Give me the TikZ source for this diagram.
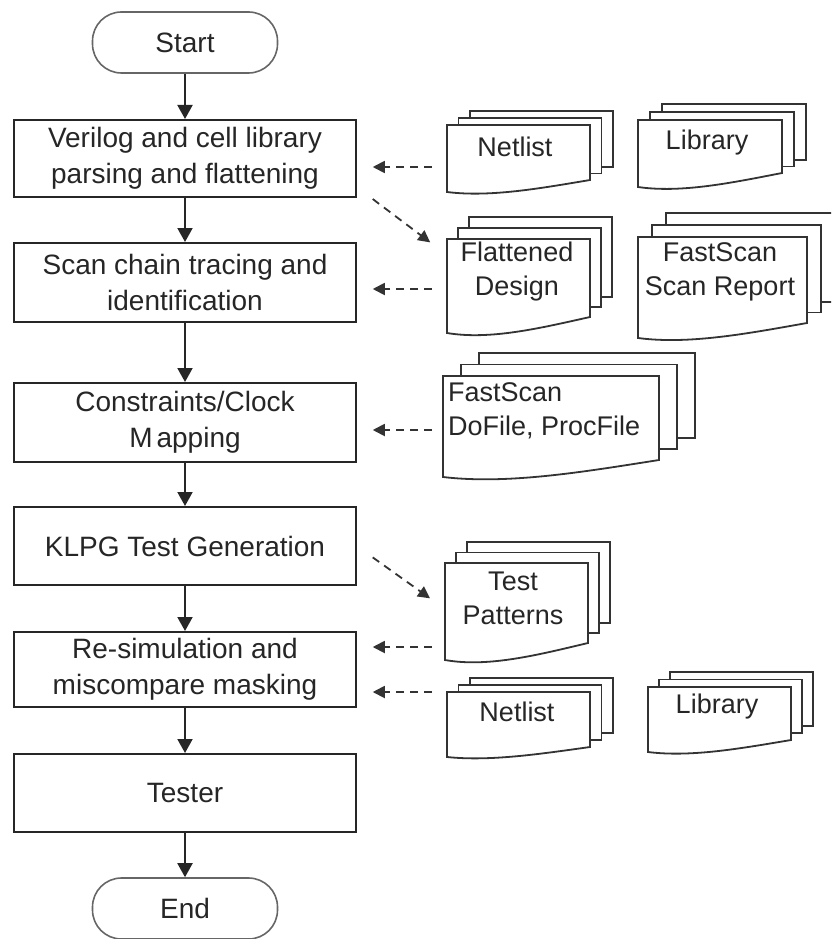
\documentclass[tikz,border=0pt]{standalone}
\usepackage{fontspec}
\setmainfont{Liberation Sans}
\usetikzlibrary{arrows.meta}

% Stack of three document sheets with a wavy bottom on the front sheet.
% #1 name, #2 left x, #3 right x, #4 top y, #5 bottom-right y, #6 bottom-left y,
% #7 sheet x offset, #8 sheet y offset, #9 rise of the back sheets' bottom stubs
\newcommand\docstack[9]{%
  \pgfmathsetmacro\dsw{#3-#2}%
  \pgfmathsetmacro\dsh{#5-#4}%
  \draw[docline] (#2+2*#7,#4-#8) -- (#2+2*#7,#4-2*#8) -- (#3+2*#7,#4-2*#8)
                 -- (#3+2*#7,#5-2*#9) -- (#3+#7,#5-2*#9);
  \draw[docline] (#2+#7,#4) -- (#2+#7,#4-#8) -- (#3+#7,#4-#8)
                 -- (#3+#7,#5-#9) -- (#3,#5-#9);
  \node[sheet, minimum width=\dsw pt, minimum height=\dsh pt, anchor=north west] (#1) at (#2,#4) {};
  \draw[docline, fill=white] (#1.north west) -- (#1.north east) -- (#1.south east)
     .. controls (#3-0.35*\dsw,#5+0.7*#6-0.7*#5) and (#2+0.3*\dsw,#6+0.45*#6-0.45*#5) .. (#2,#6) -- cycle;
}

\begin{document}
\begin{tikzpicture}[x=1pt,y=-1pt,
  every node/.style={font=\fontsize{28}{36}\selectfont, text=black!85},
  stepbox/.style={draw=black!85, line width=2pt, fill=white, minimum width=341.5pt,
                  align=center, inner sep=0pt},
  terminal/.style={draw=black!60, line width=1.6pt, rounded corners=29pt,
                   minimum width=185pt, minimum height=61pt, inner sep=0pt},
  flow/.style={draw=black!85, line width=2pt, -{Triangle[width=15pt,length=14pt]}},
  feed/.style={draw=black!80, line width=1.8pt, dash pattern=on 8pt off 6pt,
               -{Triangle[width=12pt,length=12pt]}},
  docline/.style={draw=black!80, line width=1.8pt},
  sheet/.style={inner sep=0pt, outer sep=0pt},
  doctext/.style={font=\fontsize{27}{34}\selectfont, align=center, inner sep=0pt},
]
\useasboundingbox (0,0) rectangle (831,939);
\clip (0,0) rectangle (831,939);

% main flow
\node[terminal] (start) at (185,42.5) {Start};
\node[stepbox, minimum height=77pt] (box1) at (185,158.5) {Verilog and cell library\\parsing and flattening};
\node[stepbox, minimum height=79pt] (box2) at (185,282.5) {Scan chain tracing and\\identification};
\node[stepbox, minimum height=79pt] (box3) at (185,422.5) {Constraints/Clock\\M\kern4pt apping};
\node[stepbox, minimum height=78pt] (box4) at (185,546) {KLPG Test Generation};
\node[stepbox, minimum height=75pt] (box5) at (185,669.5) {Re-simulation and\\miscompare masking};
\node[stepbox, minimum height=78pt] (box6) at (185,793) {Tester};
\node[terminal] (end) at (185,908.5) {End};

\draw[flow] (start) -- (box1);
\draw[flow] (box1) -- (box2);
\draw[flow] (box2) -- (box3);
\draw[flow] (box3) -- (box4);
\draw[flow] (box4) -- (box5);
\draw[flow] (box5) -- (box6);
\draw[flow] (box6) -- (end);

% document stacks
\docstack{netA}{447}{590}{125}{180}{192}{11.5}{7}{6.5}
\docstack{libA}{638}{782}{120}{173}{187}{12}{8}{6.5}
\docstack{flatD}{447}{590}{239}{317}{333}{11}{11}{10}
\docstack{fsRep}{638}{807}{237}{323}{338}{14}{12}{10.5}
\docstack{doFile}{443}{659}{376}{460}{477}{18}{11.5}{11}
\docstack{testP}{445}{588}{563}{643}{660}{11}{10.5}{10}
\docstack{netB}{447}{590}{692}{747}{757}{11.5}{7}{7}
\docstack{libB}{648}{791}{687}{740}{752}{11}{7.5}{7}

\node[doctext] (netA-t) at (515,147) {Netlist};
\node[doctext] (libA-t) at (707,143) {Library};
\node[doctext] (flatD-t) at (517,272) {Flattened\\Design};
\node[doctext] (fsRep-t) at (720,272) {FastScan\\Scan Report};
\node[doctext, align=left, anchor=west] (doFile-t) at (448,411) {FastScan\\DoFile, ProcFile};
\node[doctext] (testP-t) at (513,598) {Test\\Patterns};
\node[doctext] (netB-t) at (517,712) {Netlist};
\node[doctext] (libB-t) at (717,707) {Library};

% data read and written by the steps
\draw[feed, shorten <=15pt, shorten >=16pt] ([yshift=-14.5pt]netA.west) -- ([yshift=-8.5pt]box1.east);
\draw[feed, shorten <=20pt, shorten >=21pt] ([yshift=11pt]box1.south east) -- ([yshift=-16pt]flatD.north west);
\draw[feed, shorten <=15pt, shorten >=16pt] ([yshift=-11pt]flatD.west) -- ([yshift=-6.5pt]box2.east);
\draw[feed, shorten <=11pt, shorten >=16pt] ([yshift=-12pt]doFile.west) -- ([yshift=-7.5pt]box3.east);
\draw[feed, shorten <=19.6pt, shorten >=18.4pt] (box4.east) -- ([yshift=-46pt]testP.north west);
\draw[feed, shorten <=13pt, shorten >=16pt] ([yshift=-44pt]testP.west) -- ([yshift=22.5pt]box5.east);
\draw[feed, shorten <=15pt, shorten >=16pt] ([yshift=27.5pt]netB.west) -- ([yshift=-22.5pt]box5.east);
\end{tikzpicture}
\end{document}
